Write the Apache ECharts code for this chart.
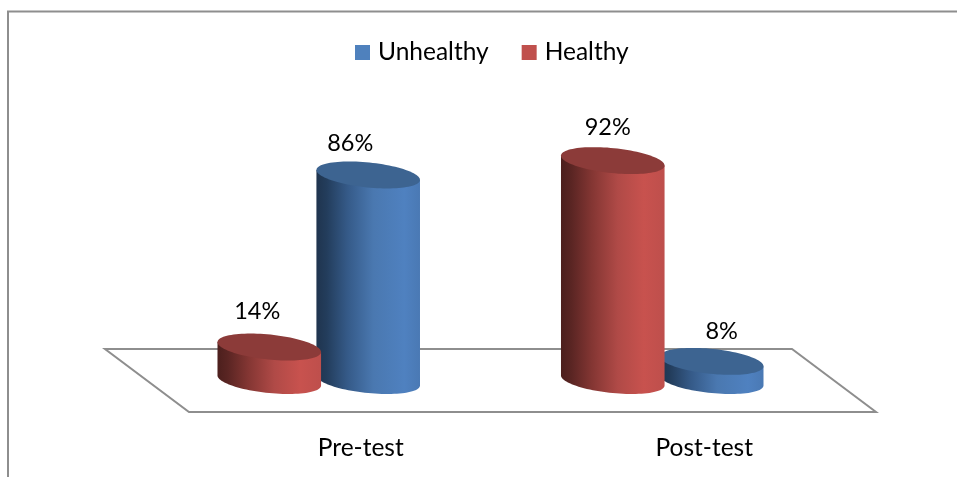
<!DOCTYPE html>
<html>
<head>
<meta charset="utf-8">
<title>Healthy and unhealthy share, pre-test and post-test</title>
<style>html,body{margin:0;padding:0;background:#fff}#chart{width:957px;height:477px}</style>
<script src="https://cdn.jsdelivr.net/npm/echarts@6/dist/echarts.min.js"></script>
</head>
<body>
<div id="chart"></div>
<script>
const categories = ['Pre-test', 'Post-test'];
const unhealthy = [86, 8];
const healthy = [14, 92];

// Hand nudges for the percentage labels, in pixels, per category.
const unhealthyLabelNudge = [[-18, -32], [10, -30]];
const healthyLabelNudge = [[-12, -36], [-5, -33]];

const FONT = 'Lato, Carlito, "Open Sans", sans-serif';
const TILT = 5.8 * Math.PI / 180;   // slant of the cylinder ellipses
const RADIUS_RATIO = 0.1515;        // long radius / category band
const SQUASH = 0.24;                // short radius / long radius
const BAR_OFFSET = 0.144;           // bar centre distance from cluster centre / band
const DEPTH_X = 0.1223;             // half floor depth, horizontal / band
const DEPTH_Y = 31.5;               // half floor depth, pixels

const PALETTE = {
  Unhealthy: {
    swatch: '#4f81bd', top: '#3d6491',
    side: [[0, '#1f344e'], [0.1, '#233d5c'], [0.3, '#355a88'], [0.55, '#4a78b0'], [0.85, '#4f81c0'], [1, '#4a79b4']]
  },
  Healthy: {
    swatch: '#c0504d', top: '#8c3b39',
    side: [[0, '#4c1f1d'], [0.1, '#5a2523'], [0.3, '#843633'], [0.55, '#b04a47'], [0.8, '#c8524e'], [1, '#be4f4c']]
  }
};

// Point on a slanted ellipse at parameter t.
function ellipsePoint(cx, cy, a, b, t) {
  const ct = Math.cos(t), st = Math.sin(t);
  return [
    cx + a * ct * Math.cos(TILT) - b * st * Math.sin(TILT),
    cy + a * ct * Math.sin(TILT) + b * st * Math.cos(TILT)
  ];
}

function cylinderRenderer(name, side, nudges) {
  const colors = PALETTE[name];
  return function (params, api) {
    const i = api.value(0), value = api.value(1);
    const band = api.size([1, 0])[0];
    const a = band * RADIUS_RATIO, b = a * SQUASH;
    const cx = api.coord([i, 0])[0] - band * DEPTH_X + side * band * BAR_OFFSET;
    const baseY = api.coord([i, 0])[1] - DEPTH_Y;
    const topY = api.coord([i, value])[1] - DEPTH_Y;
    const t0 = Math.atan2(-b * Math.sin(TILT), a * Math.cos(TILT));

    // Body: lower half of the base ellipse, then up to the top rim.
    const body = [];
    for (let k = 0; k <= 48; k++) {
      body.push(ellipsePoint(cx, baseY, a, b, t0 + Math.PI * k / 48));
    }
    body.push(ellipsePoint(cx, topY, a, b, t0 + Math.PI));
    body.push(ellipsePoint(cx, topY, a, b, t0));

    const lid = [];
    for (let k = 0; k < 96; k++) {
      lid.push(ellipsePoint(cx, topY, a, b, 2 * Math.PI * k / 96));
    }

    const nudge = nudges[i];
    return {
      type: 'group',
      children: [
        {
          type: 'polygon',
          shape: { points: body },
          style: {
            fill: new echarts.graphic.LinearGradient(0, 0, 1, 0,
              colors.side.map(s => ({ offset: s[0], color: s[1] })))
          }
        },
        { type: 'polygon', shape: { points: lid }, style: { fill: colors.top } },
        {
          type: 'text',
          style: {
            text: value + '%',
            x: cx + nudge[0],
            y: topY + nudge[1],
            fill: '#000',
            font: '23.5px ' + FONT,
            textAlign: 'center',
            textVerticalAlign: 'middle'
          }
        }
      ]
    };
  };
}

function floorRenderer(params) {
  const g = params.coordSys;
  const dx = 2 * DEPTH_X * g.width / categories.length, dy = 2 * DEPTH_Y;
  const bottom = g.y + g.height;
  return {
    type: 'polygon',
    shape: {
      points: [
        [g.x, bottom], [g.x + g.width, bottom],
        [g.x + g.width - dx, bottom - dy], [g.x - dx, bottom - dy]
      ]
    },
    style: { fill: 'none', stroke: '#8e8e8e', lineWidth: 2 }
  };
}

const chart = echarts.init(document.getElementById('chart'), null, { renderer: 'canvas' });
chart.setOption({
  animation: false,
  backgroundColor: '#fff',
  graphic: [{
    type: 'polyline',
    silent: true,
    shape: { points: [[8, 477], [8, 11.5], [957, 11.5]] },
    style: { fill: 'none', stroke: '#8e8e8e', lineWidth: 2 }
  }],
  legend: {
    data: ['Unhealthy', 'Healthy'],
    left: 350,
    top: 35,
    icon: 'rect',
    itemWidth: 15,
    itemHeight: 15,
    itemGap: 33,
    selectedMode: false,
    textStyle: { fontFamily: FONT, fontSize: 24.5, color: '#000', padding: [0, 0, 0, 3] }
  },
  grid: { left: 189, right: 81, top: 173, bottom: 65 },
  xAxis: {
    type: 'category',
    data: categories,
    axisLine: { show: false },
    axisTick: { show: false },
    axisLabel: { fontFamily: FONT, fontSize: 24.5, color: '#000', margin: 24 }
  },
  yAxis: { type: 'value', min: 0, max: 100, show: false },
  series: [
    {
      name: 'Floor', type: 'custom', silent: true, clip: false, z: 1,
      data: [[0, 0]], renderItem: floorRenderer
    },
    {
      name: 'Unhealthy', type: 'custom', clip: false, z: 2,
      itemStyle: { color: PALETTE.Unhealthy.swatch },
      encode: { x: 0, y: 1 },
      data: unhealthy.map((v, i) => [i, v]),
      renderItem: cylinderRenderer('Unhealthy', 1, unhealthyLabelNudge)
    },
    {
      name: 'Healthy', type: 'custom', clip: false, z: 3,
      itemStyle: { color: PALETTE.Healthy.swatch },
      encode: { x: 0, y: 1 },
      data: healthy.map((v, i) => [i, v]),
      renderItem: cylinderRenderer('Healthy', -1, healthyLabelNudge)
    }
  ]
});
</script>
</body>
</html>
